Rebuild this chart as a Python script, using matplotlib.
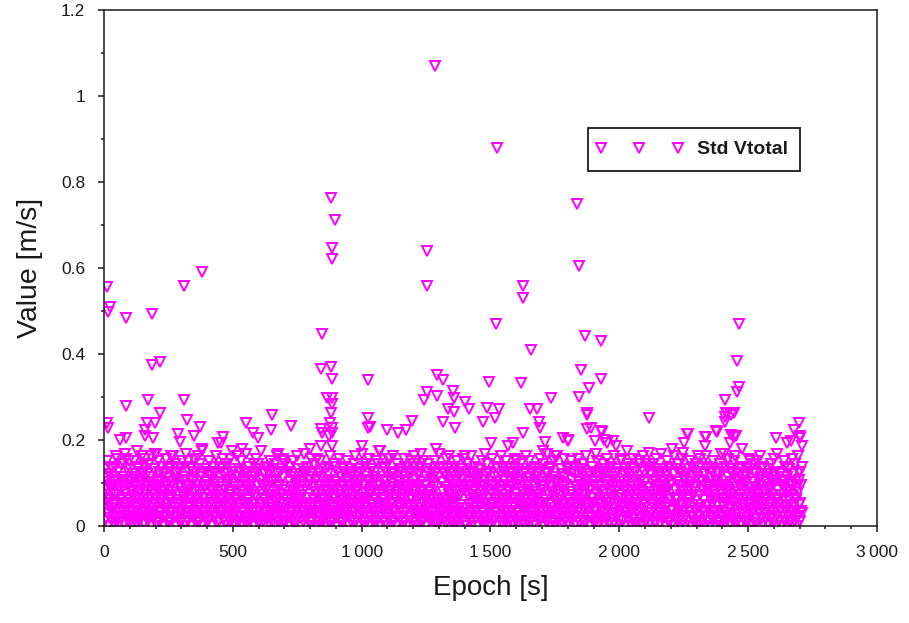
import matplotlib
matplotlib.use("Agg")
import matplotlib.pyplot as plt
from matplotlib.legend_handler import HandlerLine2D
from matplotlib.ticker import MultipleLocator, FuncFormatter
import numpy as np

plt.rcParams["font.family"] = ["Liberation Sans", "DejaVu Sans"]

# dense low-level cloud, one char per epoch, in steps of 0.006 m/s
# ('0'..'9' -> 0..0.054, 'a'..'z' -> 0.06..0.21), epochs spread over 0..2710 s
CODE = "0123456789abcdefghijklmnopqrstuvwxyz"
STEP = 0.006
band_str = (
    "7c2ja5h0e9bk3f6dm1g8i4n2c7q0h5a9e3jb6f1o8d4g7m2i5p"
    "3a9e6h1kc4f8b0jm5d2g7i3r9a6o1e4hc8k2f5b7j0d9g3m6s4"
    "8b1f5i2ld6a9h3ke0c7g4j8m1e5b2ra6h9d3f7k0i4c8l5g1n2"
    "6d3h9a1j5ce7p2f8b4m0g6i3l9d5a7h1r2e8c4k6t0b9f3g5m7"
    "2g8c4k6a0i9e3l5hb7d1j8f2m6c4a9q3k7e1h5g0b8i2d6l4t3"
    "9f1b5j3e7a2mh8d4u6c0i5g9l1f3b7a6e2j8h4d0k9c5m3g7o1"
    "4i6d0g8b2kl5a9f3n7c1e6h4m8b2d0i5a9g3s7f1l6c8e4j2p5"
    "1e7a3l9c5h0f6k2d8bj4g1i7m3e9a5c0h6d2k8f4l7b3g9j5u0"
    "5k2f8a4d6i0q3c9g7e1bj5m2h8a4f6d0k3i9c7e1v5g2b8h4n6"
    "0h4c9e2j6a8m1f5k3d7ib0g4l8e2a6c9h5j1d3f7k0m4b6i8v2"
    "6a1g5d9o3b7i0ec4m8f2j6h1l5a9d3g7c0t4e8b2i6m1f5h9q3"
    "3j7e1c5h9f2k6b0ad4l8g3i7m1c5e9a2h6j0d4f8k3b7l1g5o6"
    "8d2i6a0f4l7c1he5p9b3g6j0m4d8a2e5i9c3h7f1k5l9b4j2s8"
    "2b5h9d3k7a1f4jm8c6e0i3g7l1b5d9h2a6k0e4c8f3j7m5g1r0"
    "7f0c4g8a2l6d1ik5e9b3h7j0m4c8f2a6d1g5i9k3e7l0b4h8w2"
    "4c8j2e6a0h5m9d3f7bn1g4i8l2c6a0e5j9d3h7f1k4b8m2g6p9"
    "1i5b9f3d7k2a6l0hc4e8g1j5m9b3d7a1f5i0k4c8h2l6e9g3t5"
    "9e3a7h1k5c0g4m8df2j6b0r4i8a2e6c0h4k8f1d5j9g3m7b1n4"
    "5a9d2i6c0k4f8lb3e7h1m5g9a3j7d1c5f9i3k7e0b4h8l2g6x1"
    "2h6c0f4j8a3e7mk1d5b9g3i7l1a5h9c3e7f1j5d0k4m8b2g6q7"
    "8b2g6k0e4a9i3lc7f1d5h9j3m7b1e5a9g3c7o1i5f0d4l8h2o3"
    "3f7a1d5k9h3c7mi1e5b9g3j7l1a5d9f3h7c0k4e8i2m6b0g4u6"
    "6k0e4b8h2a6g0lc4f8d2j6i0m4a8e2b6h0g4k8c2f6d0l4j8r1"
    "0c4i8e2h6a0k4fm8d2g6b0j4l8c2a6e0i4h8k2f6d0m4g8b2s5"
    "1g5a9j3e7c1h5lk9b3d7f1i5m9a3g7c1e5j9h3b7k1d5f9l3p8"
    "7d1h5b9f3k7a1ec5i9g3j7m1d5a9h3b7f1k5e9c3i7g1l5j9y0"
    "4a8e2k6c0g4i8bf2h6d0j4m8a2e6c0g4k8h2b6f0d4i8l2g6n5"
)
# second, sparser set of epochs in between, same coding
band2_str = (
    "m3pak7nhc0rlf5oi8sqb2gme6pj1tnd4lk9qa3ohr7mcs0pf5n"
    "e8lq2hnb6ro4kma9pci1sfl7ng3qd5mjo0ub8lh2pe6nk4rw9a"
    "5nf1ol8cq3hma6rj0pe9ls2kn7gdo4qb1mt8if5nl3pc7ho0rk"
    "b6mq2oe9ln4fp1hr7ac3ms5kn8gq0jo6dl2pv9bm4hn1rf7oe3"
    "lq8c2na5pg0mk7or3ei9ls6bn1hq4dm8jp2ot5an7fl0cq9kr6"
    "4oh9mb1qn6fl3pa8re0kn5sm2gc7od4lj9pu1an6hm3qf8rb2l"
    "n7cp2mi5qe0lo8hr3bn6ka9mp4fs1ol7dq2gn5je8rm0cp3vl6"
    "g1nq6ma3oh8lr2ep5kb9nc4mq7fo0ls3in6dp1hr8am5gq2nx9"
    "3pl7nf0qc5mo2hr8ek4nb9sp1lg6oa3mq7dn0ir5fl8cp2hm6t"
    "oa6nq1lh8pe3mr7cb0nk5oi2qm9fs4ld7pn1gh6ra3mo8eq5w0"
    "k9mp4nc2ol7hq0ea5rn8fm3pb6li1os9gn4dq7ma2pr5hk0nu8"
    "2nh8qm5ol1cp6re3na9km0fo4qi7sb2lg5pn8dm1hq6oa3rl9v"
)
band_start, band_end = 0, 2710

# isolated larger values
spike_epoch = [
    10, 23, 17, 85, 188, 310, 381, 847, 886, 886, 880, 896,
    188, 217, 841, 880, 886, 85, 172, 310, 217, 321, 10, 17, 166, 198,
    551, 653, 724, 647, 867, 886, 886, 880, 878, 841, 847, 886, 372, 349,
    159, 159, 62, 84, 463, 454, 579, 599, 288, 295, 191, 886, 872,
    1026, 1026, 1032, 1026, 1243, 1252, 1252, 1252, 1283, 1291, 1291, 1316,
    1314, 1336, 1353, 1359, 1359, 1362, 1401, 1418, 1469, 1485, 1494, 1517,
    1523, 1525, 1533, 1617, 1627, 1627, 1657, 1653, 1679, 1688, 1694, 1735,
    1627, 1711, 1588, 1097, 1142, 1174, 1196,
    1837, 1843, 1866, 1929, 1851, 1929, 1882, 1843, 1873, 1873, 1890, 1929,
    1873, 1782, 1802, 1942, 1977, 1931, 1953, 1989,
    2116, 2264, 2332, 2332, 2380, 2377, 2335, 2265,
    2410, 2410, 2416, 2435, 2429, 2435, 2444, 2414, 2444, 2410, 2451,
    2455, 2465, 2458, 2465,
    2698, 2677, 2700, 2700, 2665, 2651, 2248, 2116,
]
spike_value = [
    0.555, 0.51, 0.498, 0.483, 0.493, 0.559, 0.59, 0.446, 0.62, 0.647, 0.762, 0.712,
    0.374, 0.382, 0.364, 0.369, 0.341, 0.28, 0.293, 0.293, 0.262, 0.246, 0.239, 0.227, 0.239, 0.239,
    0.239, 0.257, 0.233, 0.223, 0.297, 0.297, 0.284, 0.262, 0.239, 0.226, 0.216, 0.216, 0.231, 0.21,
    0.223, 0.21, 0.2, 0.204, 0.208, 0.194, 0.217, 0.204, 0.213, 0.196, 0.204, 0.227, 0.21,
    0.34, 0.252, 0.231, 0.227, 0.293, 0.311, 0.558, 0.64, 1.07, 0.351, 0.302, 0.34,
    0.243, 0.271, 0.315, 0.297, 0.264, 0.227, 0.289, 0.271, 0.243, 0.275, 0.336, 0.25,
    0.47, 0.88, 0.271, 0.332, 0.531, 0.558, 0.409, 0.271, 0.271, 0.243, 0.227, 0.297,
    0.216, 0.196, 0.192, 0.223, 0.216, 0.223, 0.244,
    0.749, 0.605, 0.442, 0.431, 0.363, 0.343, 0.32, 0.299, 0.263, 0.258, 0.229, 0.22,
    0.225, 0.204, 0.2, 0.2, 0.197, 0.218, 0.192, 0.187,
    0.25, 0.214, 0.208, 0.186, 0.219, 0.22, 0.208, 0.213,
    0.293, 0.243, 0.262, 0.258, 0.194, 0.212, 0.206, 0.263, 0.263, 0.254, 0.21,
    0.312, 0.324, 0.384, 0.47,
    0.239, 0.223, 0.21, 0.205, 0.197, 0.192, 0.17, 0.169,
]


def decode(s):
    return np.array([CODE.index(c) * STEP for c in s])


band_value = decode(band_str)
band_epoch = np.linspace(band_start, band_end, len(band_value))
band2_value = decode(band2_str)
band2_epoch = np.linspace(band_start + 3, band_end - 3, len(band2_value))
epoch = np.concatenate([band_epoch, band2_epoch, spike_epoch])
value = np.concatenate([band_value, band2_value, spike_value])

MAG = "#ff00ff"
INK = "#1a1a1a"

fig = plt.figure(figsize=(9.09, 6.23), dpi=100)
ax = fig.add_axes([0.1144, 0.1557, 0.8504, 0.8283])
ax.plot(epoch, value, linestyle="none", marker="v", markersize=7,
        markerfacecolor="none", markeredgecolor=MAG, markeredgewidth=1.4,
        label="Std Vtotal")

ax.set_xlim(0, 3000)
ax.set_ylim(0, 1.2)
ax.xaxis.set_major_locator(MultipleLocator(500))
ax.xaxis.set_minor_locator(MultipleLocator(100))
ax.yaxis.set_major_locator(MultipleLocator(0.2))
ax.yaxis.set_minor_locator(MultipleLocator(0.1))
ax.xaxis.set_major_formatter(FuncFormatter(
    lambda v, p: f"{int(round(v)):,}".replace(",", "\u2009")))
ax.yaxis.set_major_formatter(FuncFormatter(lambda v, p: f"{v:g}"))
ax.tick_params(which="both", direction="out", top=False, right=False,
               width=1.1, labelsize=12.5, pad=9, colors=INK)
ax.tick_params(which="major", length=4.5)
ax.tick_params(which="minor", length=2.5)
for s in ax.spines.values():
    s.set_linewidth(1.1)
    s.set_color(INK)

ax.set_xlabel("Epoch [s]", fontsize=20, labelpad=11, color=INK)
ax.set_ylabel("Value [m/s]", fontsize=20.5, labelpad=13, color=INK)

leg = ax.legend(loc="upper left", bbox_to_anchor=(0.626, 0.771), borderaxespad=0,
                numpoints=3, handlelength=4.0, handletextpad=0.95,
                borderpad=0.65, fancybox=False, framealpha=1,
                handler_map={matplotlib.lines.Line2D: HandlerLine2D(marker_pad=0)},
                prop={"size": 14, "weight": "bold"})
leg.get_frame().set_edgecolor(INK)
leg.get_frame().set_linewidth(1.3)
for t in leg.get_texts():
    t.set_color(INK)

fig.savefig("out.png", dpi=100)
